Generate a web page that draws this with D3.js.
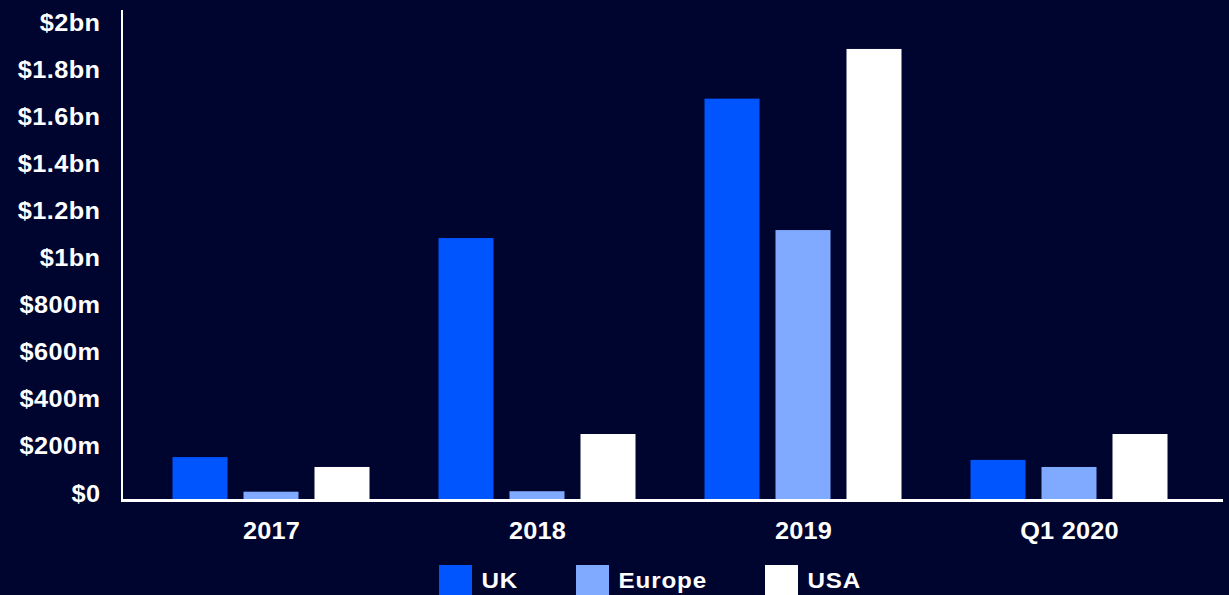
<!DOCTYPE html>
<html><head><meta charset="utf-8">
<script src="https://cdn.jsdelivr.net/npm/d3@7"></script>
<style>
html,body{margin:0;padding:0;background:#000530;}
svg{display:block;font-family:"Liberation Sans",Arial,Helvetica,sans-serif;font-weight:bold;}
</style></head><body>
<svg id="chart" width="1229" height="595"></svg>
<script>
const categories = ["2017", "2018", "2019", "Q1 2020"];
const seriesNames = ["UK", "Europe", "USA"];
const ukValues = [178, 1108, 1700, 166];
const europeValues = [31, 33, 1142, 136];
const usaValues = [136, 276, 1911, 276];
const yTicks = [0, 200, 400, 600, 800, 1000, 1200, 1400, 1600, 1800, 2000];
const yTickLabels = ["$0", "$200m", "$400m", "$600m", "$800m", "$1bn", "$1.2bn", "$1.4bn", "$1.6bn", "$1.8bn", "$2bn"];
const colors = ["#0055ff", "#80aaff", "#ffffff"];

const series = [ukValues, europeValues, usaValues];
const svg = d3.select("#chart");
svg.append("rect").attr("width",1229).attr("height",595).attr("fill","#000530");

const y = d3.scaleLinear().domain([0,2000]).range([499,28]);
const x0 = d3.scaleBand().domain(categories).range([138,1202]).paddingInner(0).paddingOuter(0);
const groupWidth = 197;
const x1 = d3.scaleBand().domain(seriesNames).range([0,groupWidth]).paddingInner(16/71).paddingOuter(0);

const fontFam = "Liberation Sans, Arial, sans-serif";

// y labels
const yAxis = d3.axisLeft(y).tickValues(yTicks).tickFormat((d,i)=>yTickLabels[i]).tickSize(0).tickPadding(0);
const ya = svg.append("g").attr("transform","translate(100.5,0)").call(yAxis);
ya.select(".domain").remove();
ya.selectAll("text").attr("fill","#fff").attr("dy","2").attr("x",0).attr("transform","scale(1.1,1)")
  .style("font-size","23px").style("letter-spacing","0.4px").style("font-family",fontFam).style("font-weight","bold");

// bars
const groups = svg.append("g").selectAll("g").data(categories).join("g")
  .attr("transform", d => `translate(${x0(d) + (x0.bandwidth()-groupWidth)/2},0)`);
groups.selectAll("rect").data((d,i)=>seriesNames.map((s,j)=>({s, v: series[j][i], j})))
  .join("rect")
  .attr("x", d => x1(d.s)).attr("width", x1.bandwidth())
  .attr("y", d => y(d.v)).attr("height", d => y(0)-y(d.v) + 1)
  .attr("fill", d => colors[d.j]);

// axis lines
svg.append("line").attr("x1",122).attr("x2",122).attr("y1",10).attr("y2",501).attr("stroke","#fff").attr("stroke-width",2);
svg.append("line").attr("x1",121).attr("x2",1223).attr("y1",500.5).attr("y2",500.5).attr("stroke","#fff").attr("stroke-width",3);

// x labels
const xAxis = d3.axisBottom(x0).tickSize(0).tickPadding(0);
const xa = svg.append("g").attr("transform","translate(0.5,539)").call(xAxis);
xa.select(".domain").remove();
xa.selectAll("text").attr("fill","#fff").attr("dy","0").attr("y",0).attr("transform","scale(1.1,1)")
  .style("font-size","23px").style("letter-spacing","0.2px").style("font-family",fontFam).style("font-weight","bold");

// legend
const legendX = [439, 576, 765];
const lg = svg.append("g").selectAll("g").data(seriesNames).join("g")
  .attr("transform",(d,i)=>`translate(${legendX[i]},565)`);
lg.append("rect").attr("width",33).attr("height",33).attr("fill",(d,i)=>colors[i]);
lg.append("text").attr("transform","translate(42.5,23.3) scale(1.1,1)").attr("fill","#fff")
  .style("font-size","22px").style("letter-spacing","0.8px").text(d=>d);
</script>
</body></html>
